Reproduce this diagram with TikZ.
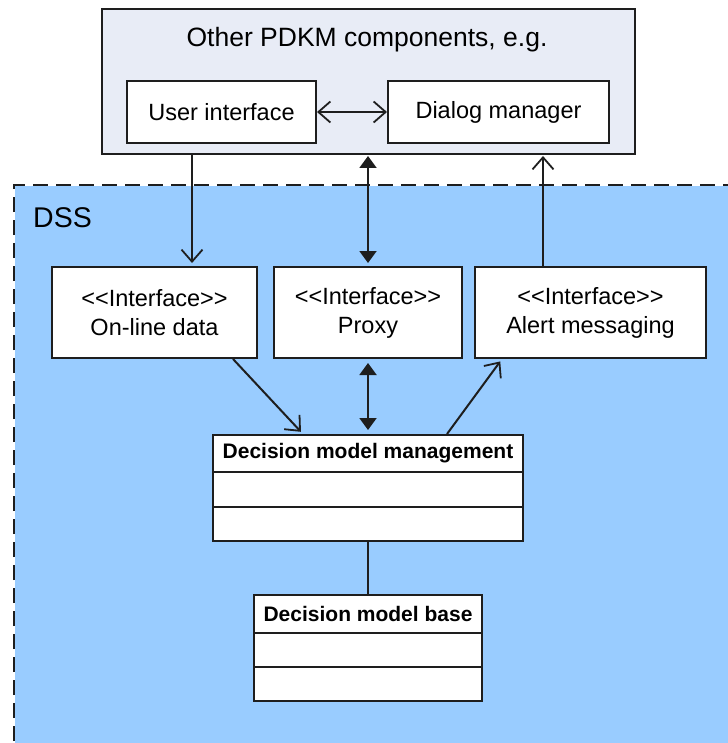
\documentclass[tikz,border=0pt]{standalone}
\usepackage{fontspec}
\setmainfont{Liberation Sans}
\usetikzlibrary{arrows.meta,calc}
\definecolor{dssblue}{HTML}{99CCFF}
\definecolor{topfill}{HTML}{E8ECF6}
\definecolor{ink}{HTML}{1E1E1E}
\newcommand{\stereo}[1]{{<}{<}#1{>}{>}}
\begin{document}
\begin{tikzpicture}[x=1pt,y=-1pt,
  boxbase/.style={draw=ink, line width=2pt, inner sep=0pt, anchor=north west},
  whitebox/.style={boxbase, fill=white, font=\fontsize{23.5}{29}\selectfont, align=center},
  conn/.style={draw=ink, line width=2pt},
  openhead/.style={-{Straight Barb[length=12pt,width=21pt,line width=1.8pt]}},
  fillhead/.style={{Triangle[length=12pt,width=17pt]}-{Triangle[length=12pt,width=17pt]}},
  classhead/.style={font=\bfseries\fontsize{21}{25}\selectfont, inner sep=0pt}
]
\useasboundingbox (0,0) rectangle (727,743);

% DSS region
\node[boxbase, draw=none, fill=dssblue, minimum width=740pt, minimum height=600pt] (dss) at (14,185) {};
\draw[draw=ink, line width=2pt, dash pattern=on 15pt off 8pt] (dss.south west) -- (dss.north west) -- (dss.north east);
\node[anchor=west, font=\fontsize{28.5}{32}\selectfont, inner sep=0pt] (dsslabel) at (33,218) {DSS};

% Other PDKM components
\node[boxbase, fill=topfill, minimum width=533pt, minimum height=145pt] (outer) at (101,8) {};
\node[font=\fontsize{26.5}{30}\selectfont, inner sep=0pt] (title) at (367,40) {Other PDKM components, e.g.};
\node[whitebox, minimum width=189pt, minimum height=62pt] (ui) at (126,80) {User interface};
\node[whitebox, minimum width=221pt, minimum height=62pt] (dm) at (387,80) {Dialog manager};

% Interfaces
\node[whitebox, minimum width=205pt, minimum height=91pt] (od) at (51,266) {\stereo{Interface}\\On-line data};
\node[whitebox, minimum width=188pt, minimum height=91pt] (px) at (273,266) {\stereo{Interface}\\Proxy};
\node[whitebox, minimum width=231pt, minimum height=91pt] (am) at (474,266) {\stereo{Interface}\\Alert messaging};

% Decision model management
\node[boxbase, fill=white, minimum width=310pt, minimum height=106pt] (dmm) at (212,434) {};
\node[classhead] (dmmtitle) at ($(dmm.north)+(0,19)$) {Decision model management};
\draw[draw=ink, line width=2pt] ($(dmm.north west)+(0,38)$) -- ($(dmm.north east)+(0,38)$);
\draw[draw=ink, line width=2pt] ($(dmm.north west)+(0,73)$) -- ($(dmm.north east)+(0,73)$);

% Decision model base
\node[boxbase, fill=white, minimum width=228pt, minimum height=106pt] (dmb) at (253,594) {};
\node[classhead] (dmbtitle) at ($(dmb.north)+(0,19.5)$) {Decision model base};
\draw[draw=ink, line width=2pt] ($(dmb.north west)+(0,39)$) -- ($(dmb.north east)+(0,39)$);
\draw[draw=ink, line width=2pt] ($(dmb.north west)+(0,73)$) -- ($(dmb.north east)+(0,73)$);

% Connectors
\draw[conn, {Straight Barb[length=12pt,width=21pt,line width=1.8pt]}-{Straight Barb[length=12pt,width=21pt,line width=1.8pt]}] (ui.east) -- (dm.west);

\coordinate (odin) at ([xshift=37.5pt]od.north);
\draw[conn, openhead, shorten >=3pt] (odin |- outer.south) -- (odin);

\draw[conn, fillhead, shorten <=1pt, shorten >=3pt] (px.north |- outer.south) -- (px.north);

\coordinate (amout) at ([xshift=-47.5pt]am.north);
\draw[conn, openhead, shorten >=1pt] (amout) -- (amout |- outer.south);

\draw[conn, openhead, shorten >=3pt] ([xshift=78.5pt]od.south) -- ([xshift=-65pt]dmm.north);
\draw[conn, fillhead, shorten <=4pt, shorten >=4pt] (px.south) -- (px.south |- dmm.north);
\draw[conn, openhead, shorten >=3pt] ([xshift=79pt]dmm.north) -- ([xshift=-88.5pt]am.south);

\draw[conn] (dmm.south) -- (dmb.north);
\end{tikzpicture}
\end{document}
